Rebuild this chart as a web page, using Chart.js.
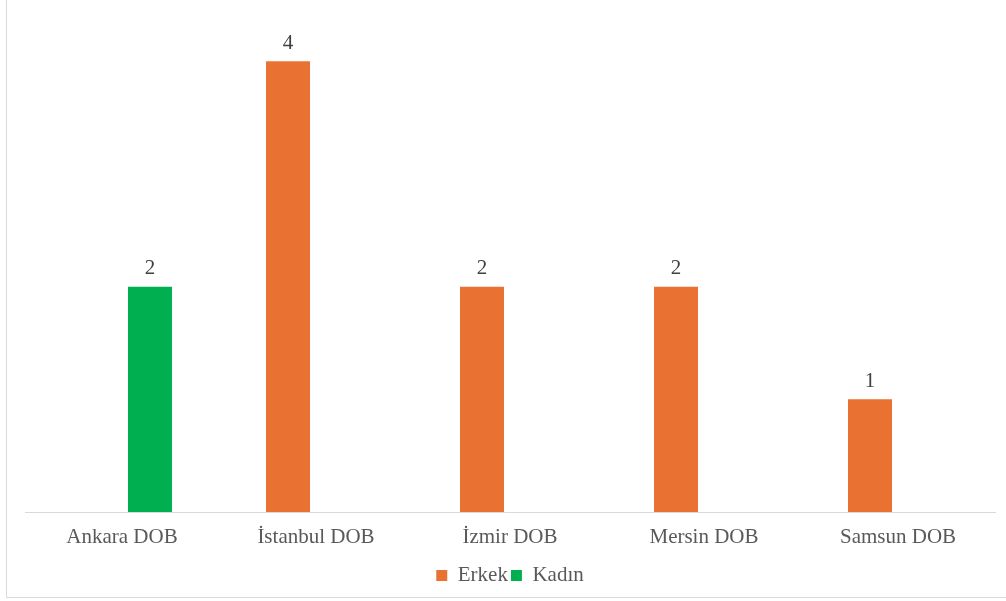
<!DOCTYPE html>
<html>
<head>
<meta charset="utf-8">
<script src="https://cdn.jsdelivr.net/npm/chart.js@4"></script>
<style>
  html, body { margin: 0; padding: 0; background: #fff; }
  #wrap { position: relative; width: 1006px; height: 601px; }
  #frame {
    position: absolute; left: 6px; top: -2px; width: 1010px; height: 599px;
    border-left: 1px solid #d9d9d9; border-bottom: 1px solid #d9d9d9;
    pointer-events: none;
  }
</style>
</head>
<body>
<div id="wrap">
  <canvas id="chart" width="1006" height="601"></canvas>
  <div id="frame"></div>
</div>
<script>
const categories = ['Ankara DOB', 'İstanbul DOB', 'İzmir DOB', 'Mersin DOB', 'Samsun DOB'];
const erkek = [null, 4, 2, 2, 1];
const kadin = [2, null, null, null, null];

// values above each bar
const valueLabels = {
    id: 'valueLabels',
    afterDatasetsDraw(chart) {
        const ctx = chart.ctx;
        ctx.save();
        ctx.font = '21px "Liberation Serif"';
        ctx.fillStyle = '#404040';
        ctx.textAlign = 'center';
        ctx.textBaseline = 'middle';
        chart.data.datasets.forEach((ds, i) => {
            const meta = chart.getDatasetMeta(i);
            meta.data.forEach((bar, j) => {
                if (ds.data[j] === null) return;
                ctx.fillText(ds.data[j], bar.x, bar.y - 18);
            });
        });
        ctx.restore();
    }
};

const ctx = document.getElementById('chart').getContext('2d');
new Chart(ctx, {
    type: 'bar',
    data: {
        labels: categories,
        datasets: [
            { label: 'Erkek', data: erkek, backgroundColor: '#E97132' },
            { label: 'Kadın', data: kadin, backgroundColor: '#00B050' }
        ]
    },
    options: {
        responsive: false,
        animation: false,
        categoryPercentage: 0.577,
        barPercentage: 0.786,
        layout: { padding: { left: 25, right: 11, top: 5, bottom: 5 } },
        plugins: {
            tooltip: { enabled: false },
            legend: {
                position: 'bottom',
                labels: {
                    boxWidth: 11,
                    boxHeight: 11,
                    padding: 3,
                    color: '#595959',
                    font: { family: 'Liberation Serif', size: 21, lineHeight: 1 }
                }
            }
        },
        scales: {
            x: {
                grid: { display: false, drawTicks: false },
                border: { display: true, color: '#d9d9d9', width: 1 },
                ticks: {
                    color: '#595959',
                    padding: 14.5,
                    font: { family: 'Liberation Serif', size: 21, lineHeight: 1 }
                }
            },
            y: {
                display: false,
                min: 0,
                max: 4.5
            }
        }
    },
    plugins: [valueLabels]
});
</script>
</body>
</html>
